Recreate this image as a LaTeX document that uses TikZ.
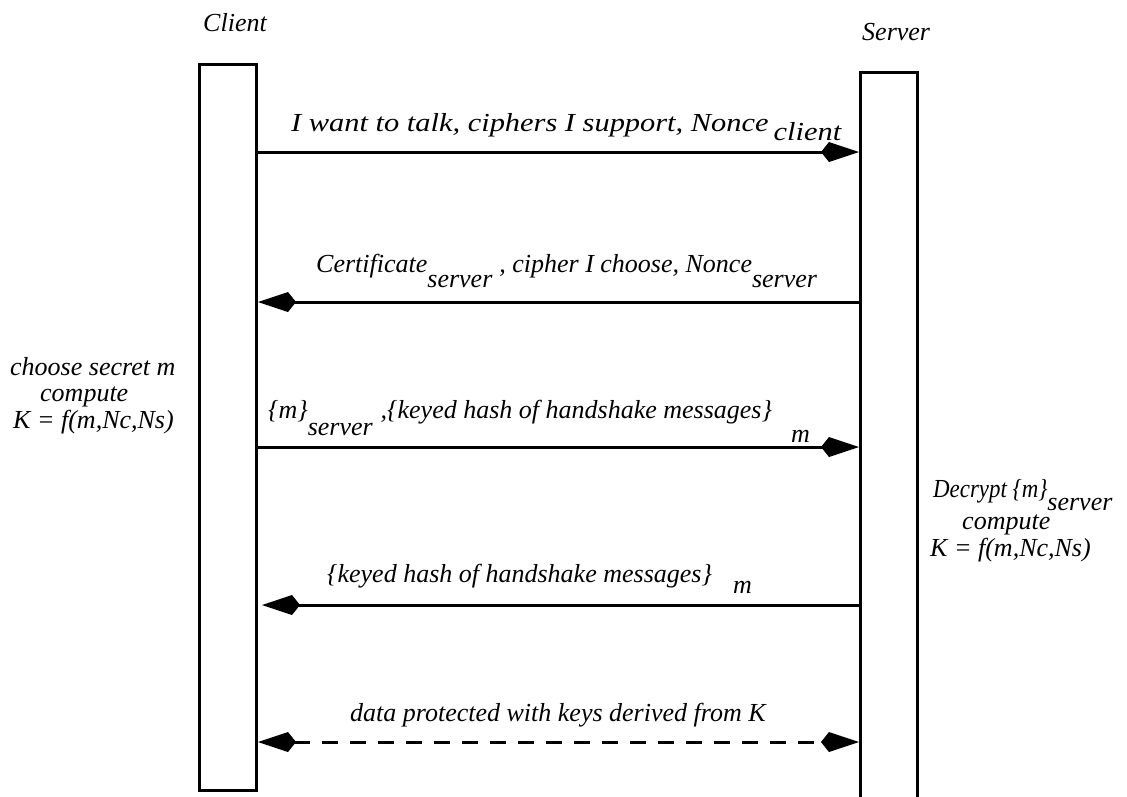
\documentclass[tikz,border=0pt]{standalone}
\usepackage{fontspec}
\setmainfont{Liberation Serif}
\usetikzlibrary{arrows.meta}
\begin{document}
\begin{tikzpicture}[x=1pt,y=-1pt,
  lifeline/.style={draw,line width=3pt,minimum width=57pt,inner sep=0pt},
  tip/.tip={Kite[length=38pt,width=20pt,inset=8pt]},
  msg/.style={line width=3pt,-tip},
  dmsg/.style={line width=3pt,dash pattern=on 16pt off 12pt,tip-tip},
  lbl/.style={inner sep=0pt,anchor=base west,font=\fontsize{26}{31}\itshape}]
\useasboundingbox (0,0) rectangle (1127,796);
\node[lifeline,minimum height=726pt] (cbox) at (228,427) {};
\node[lifeline,minimum height=740pt] (sbox) at (889,442) {};
\node[lbl] (ctitle) at (203,31) {Client};
\node[lbl] (stitle) at (862,40) {Server};
% message 1
\coordinate (c1) at (cbox.east |- 0,152);
\coordinate (s1) at (sbox.west |- 0,152);
\draw[msg] (c1) -- (s1);
\node[lbl] (l1) at (291,131) {\scalebox{1.17}[1]{I want to talk, ciphers I support, Nonce\,\raisebox{-9pt}{client}}};
% message 2
\coordinate (c2) at (cbox.east |- 0,302);
\coordinate (s2) at (sbox.west |- 0,302);
\draw[msg] (s2) -- (c2);
\node[lbl] (l2) at (316,272) {Certificate\raisebox{-15pt}{server}\hspace{7pt}, cipher I choose, Nonce\raisebox{-15pt}{server}};
% message 3
\coordinate (c3) at (cbox.east |- 0,447);
\coordinate (s3) at (sbox.west |- 0,447);
\draw[msg] (c3) -- (s3);
\node[lbl] (l3) at (268,418) {\{m\}\raisebox{-17pt}{server}\hspace{8pt},\{keyed hash of handshake messages\}};
\node[lbl] (l3m) at (791,442) {m};
% message 4
\coordinate (c4) at (cbox.east |- 0,605);
\coordinate (s4) at (sbox.west |- 0,605);
\draw[msg] (s4) -- ([xshift=4pt]c4);
\node[lbl] (l4) at (327,582) {\{keyed hash of handshake messages\}};
\node[lbl] (l4m) at (733,593) {m};
% message 5
\coordinate (c5) at (cbox.east |- 0,742);
\coordinate (s5) at (sbox.west |- 0,742);
\draw[dmsg] (c5) -- (s5);
\node[lbl] (l5) at (350,721) {data protected with keys derived from K};
% side notes
\node[lbl] (n1) at (10,375) {choose secret m};
\node[lbl] (n2) at (40,401) {compute};
\node[lbl] (n3) at (13,428) {K = f(m,Nc,Ns)};
\node[lbl] (r1) at (933,497) {\scalebox{0.88}[1]{Decrypt \{m\}}\raisebox{-13pt}{server}};
\node[lbl] (r2) at (962,529) {compute};
\node[lbl] (r3) at (930,556) {K = f(m,Nc,Ns)};
\end{tikzpicture}
\end{document}
